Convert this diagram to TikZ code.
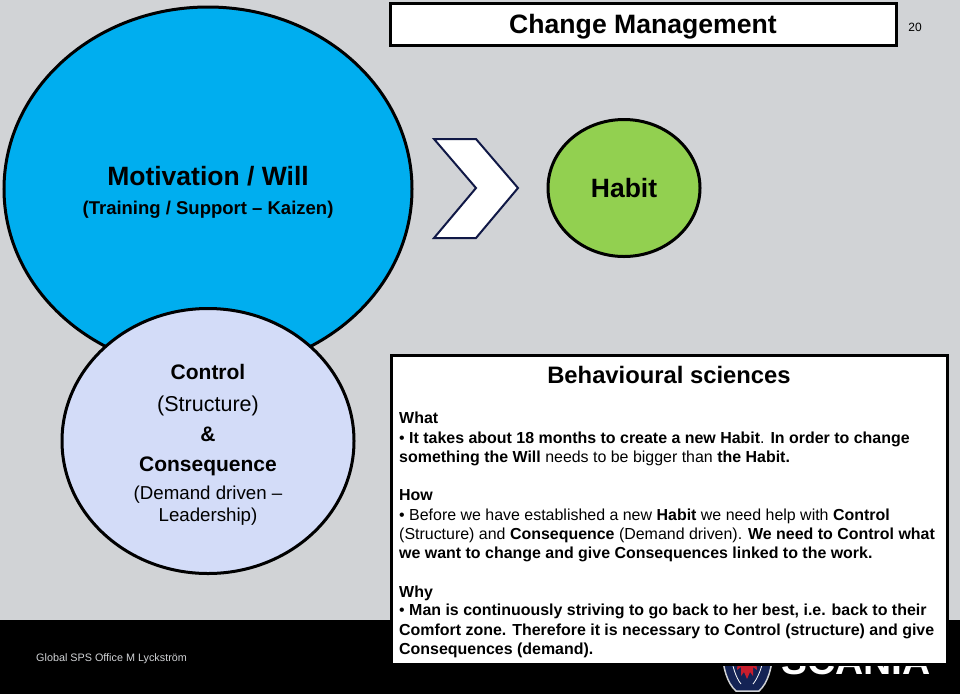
\documentclass[tikz,border=0pt]{standalone}
\usepackage{fontspec}
\setmainfont{Liberation Sans}
\usetikzlibrary{shapes,positioning}
\definecolor{SlideGrey}{RGB}{209, 211, 214}
\definecolor{WillBlue}{RGB}{0, 174, 239}
\definecolor{HabitGreen}{RGB}{146, 208, 80}
\definecolor{ControlBlue}{RGB}{211, 220, 248}
\definecolor{ChevronNavy}{RGB}{16, 24, 70}
\definecolor{BadgeNavy}{RGB}{20, 35, 85}
\definecolor{BadgeRed}{RGB}{200, 30, 45}
\tikzset{
  circlenode/.style={ellipse, draw=black, line width=3pt, inner sep=0pt, align=center, text=black},
  framebox/.style={draw=black, line width=3pt, fill=white, anchor=north west, inner sep=0pt, outer sep=0pt},
  bodyline/.style={anchor=base west, inner sep=0pt, text=black, font=\fontsize{15.95}{18}\selectfont},
  centerline/.style={anchor=base, inner sep=0pt, text=black},
}
\begin{document}
\begin{tikzpicture}[x=1pt, y=-1pt]
    \useasboundingbox (0,0) rectangle (960,694);
    % Background and footer band
    \fill[SlideGrey] (0,0) rectangle (960,694);
    \fill[black] (0,620) rectangle (960,694);
    \node[anchor=base west, inner sep=0pt, text=SlideGrey, font=\fontsize{10.8}{13}\selectfont] (author) at (36,661) {Global SPS Office M Lyckström};

    % Logo
    \filldraw[fill=BadgeNavy, draw=SlideGrey, line width=1.5pt]
      (722,650) .. controls (723,668) and (727,683) .. (736,691) -- (759,691) .. controls (768,683) and (772,668) .. (773,650) -- cycle;
    \draw[white, line width=0.8pt] (730,650) .. controls (732,666) and (736,678) .. (741,684);
    \draw[white, line width=0.8pt] (765,650) .. controls (763,666) and (758,678) .. (753,684);
    \fill[BadgeRed] (738,660) -- (756,660) -- (757,670) -- (753,667) -- (753,676) -- (750,672) -- (747,679) -- (744,672) -- (741,676) -- (741,667) -- (737,670) -- cycle;
    \node[anchor=base west, inner sep=0pt, text=white, font=\bfseries\fontsize{39}{39}\selectfont] (logotext) at (781,674) {SCANIA};

    % Ellipses
    \node[circlenode, fill=WillBlue, minimum width=408pt, minimum height=364pt] (will) at (208,189) {};
    \node[circlenode, fill=ControlBlue, minimum width=292pt, minimum height=265pt] (control) at (208,441) {};
    \node[circlenode, fill=HabitGreen, minimum width=152pt, minimum height=137pt] (habit) at (624,188) {\bfseries\fontsize{26.5}{30}\selectfont Habit};

    % Chevron
    \filldraw[fill=white, draw=ChevronNavy, line width=2pt, line join=miter]
      (434,139) -- (476,139) -- (518,188) -- (476,238) -- (434,238) -- (476,188) -- cycle;

    % Ellipse texts
    \node[centerline, font=\bfseries\fontsize{26.5}{30}\selectfont] (willtitle) at (208,185) {Motivation / Will};
    \node[centerline, font=\bfseries\fontsize{18.5}{22}\selectfont] (willsub) at (208,214) {(Training / Support -- Kaizen)};
    \node[centerline, font=\bfseries\fontsize{21}{24}\selectfont] (controlA) at (208,379) {Control};
    \node[centerline, font=\fontsize{21.5}{24}\selectfont] (controlB) at (208,411) {(Structure)};
    \node[centerline, font=\bfseries\fontsize{21}{24}\selectfont] (controlC) at (208,441) {\&};
    \node[centerline, font=\bfseries\fontsize{21}{24}\selectfont] (controlD) at (208,471) {Consequence};
    \node[centerline, font=\fontsize{18.7}{22}\selectfont] (controlE) at (208,499) {(Demand driven --};
    \node[centerline, font=\fontsize{18.7}{22}\selectfont] (controlF) at (208,521) {Leadership)};

    % Title box
    \node[framebox, minimum width=506pt, minimum height=42pt] (titlebox) at (390,3) {};
    \node[centerline, font=\bfseries\fontsize{26.6}{30}\selectfont] (title) at (643,33) {Change Management};
    \node[centerline, font=\fontsize{12}{14}\selectfont] (pagenum) at (915,31) {20};

    % Text box
    \node[framebox, minimum width=556pt, minimum height=309pt] (textbox) at (391,355) {};
    \node[centerline, font=\bfseries\fontsize{23.8}{26}\selectfont] (boxtitle) at (669,383) {Behavioural sciences};
    \node[bodyline] (whathead) at (399,423) {\textbf{What}};
    \node[bodyline] (whatA) at (399,443) {• \textbf{It takes about 18 months to create a new Habit}. \textbf{In order to change}};
    \node[bodyline] (whatB) at (399,462) {\textbf{something the Will} needs to be bigger than \textbf{the Habit.}};
    \node[bodyline] (howhead) at (399,500) {\textbf{How}};
    \node[bodyline] (howA) at (399,520) {• Before we have established a new \textbf{Habit} we need help with \textbf{Control}};
    \node[bodyline] (howB) at (399,539) {(Structure) and \textbf{Consequence} (Demand driven). \textbf{We need to Control what}};
    \node[bodyline] (howC) at (399,558) {\textbf{we want to change and give Consequences linked to the work.}};
    \node[bodyline] (whyhead) at (399,597) {\textbf{Why}};
    \node[bodyline] (whyA) at (399,615) {• \textbf{Man is continuously striving to go back to her best, i.e. back to their}};
    \node[bodyline] (whyB) at (399,635) {\textbf{Comfort zone. Therefore it is necessary to Control (structure) and give}};
    \node[bodyline] (whyC) at (399,654) {\textbf{Consequences (demand).}};
\end{tikzpicture}
\end{document}
